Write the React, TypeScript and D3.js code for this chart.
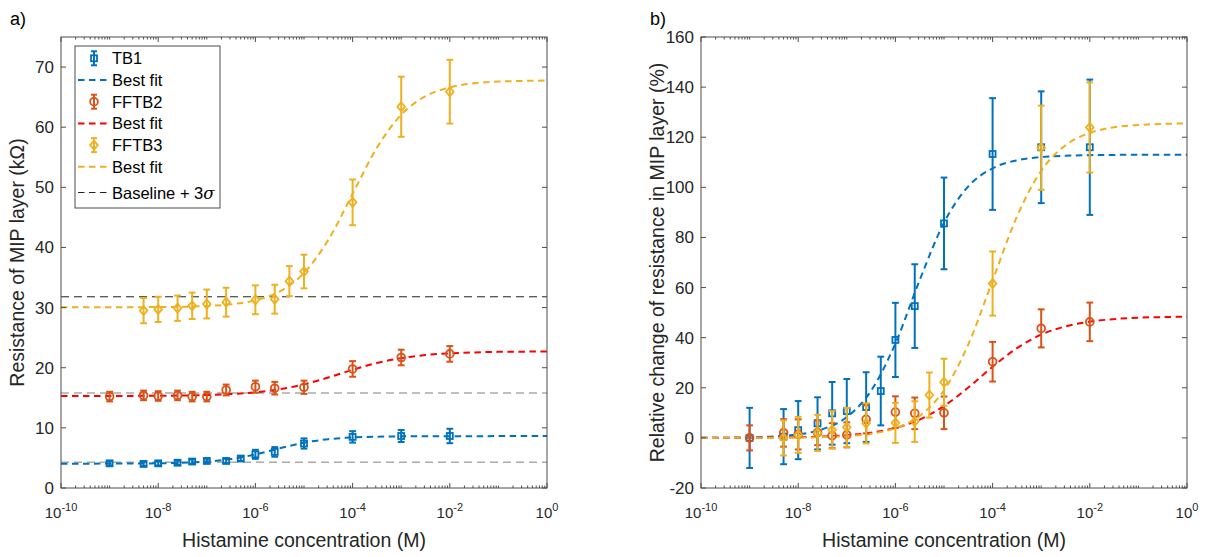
import React from "react";
import { scaleLog, scaleLinear, line, curveMonotoneX } from "d3";

const W = 1208;
const H = 557;
const FONT = "'Liberation Sans', Arial, Helvetica, sans-serif";

// histamine concentrations (M) per sensor
const concTB1 = [1e-9, 5e-9, 1e-8, 2.5e-8, 5e-8, 1e-7, 2.5e-7, 5e-7, 1e-6, 2.5e-6, 1e-5, 1e-4, 1e-3, 1e-2];
const concFFTB2 = [1e-9, 5e-9, 1e-8, 2.5e-8, 5e-8, 1e-7, 2.5e-7, 1e-6, 2.5e-6, 1e-5, 1e-4, 1e-3, 1e-2];
const concFFTB3 = [5e-9, 1e-8, 2.5e-8, 5e-8, 1e-7, 2.5e-7, 1e-6, 2.5e-6, 5e-6, 1e-5, 1e-4, 1e-3, 1e-2];

// a) resistance (kOhm)
const tb1Res = [4.1, 4.0, 4.1, 4.2, 4.4, 4.5, 4.5, 4.9, 5.6, 6.0, 7.4, 8.5, 8.65, 8.65];
const tb1ResErr = [0.35, 0.35, 0.35, 0.35, 0.35, 0.35, 0.35, 0.4, 0.75, 0.8, 0.85, 0.95, 1.0, 1.2];
const fftb2Res = [15.2, 15.4, 15.3, 15.4, 15.2, 15.2, 16.3, 16.85, 16.6, 16.75, 19.8, 21.7, 22.3];
const fftb2ResErr = [0.8, 0.8, 0.8, 0.8, 0.8, 0.8, 0.9, 1.0, 1.05, 1.1, 1.3, 1.3, 1.3];
const fftb3Res = [29.5, 29.7, 29.9, 30.3, 30.6, 30.9, 31.3, 31.4, 34.4, 36.0, 47.5, 63.4, 65.9];
const fftb3ResErr = [2.1, 2.1, 2.1, 2.2, 2.4, 2.4, 2.4, 2.4, 2.5, 2.8, 3.8, 5.0, 5.3];
const baselines = [4.3, 15.8, 31.8];

// b) relative change (%)
const tb1Pct = [0, 0.5, 3.1, 5.8, 9.8, 10.7, 12.3, 18.7, 39.1, 52.6, 85.6, 113.3, 116, 116];
const tb1PctErr = [12, 11, 11.6, 10.4, 12.5, 12.8, 13.9, 13.7, 14.8, 16.7, 18.3, 22.3, 22.3, 27];
const fftb2Pct = [0, 2, 1.4, 2.1, 0.9, 1.2, 7.4, 10.3, 9.8, 10, 30.4, 43.7, 46.3];
const fftb2PctErr = [5, 5.5, 6, 5, 5, 5, 5.6, 6.3, 6.3, 6.5, 7.9, 7.6, 7.7];
const fftb3Pct = [0, 1.2, 2, 3.2, 4.2, 5.8, 6, 6.5, 17.1, 22.2, 61.6, 115.8, 123.9];
const fftb3PctErr = [7, 7.2, 7.2, 7.5, 7.8, 8, 8, 8.1, 9, 9.4, 12.8, 16.8, 18];

// best fit curves, read at half-decade steps
const fitExp = [-10, -9.5, -9, -8.5, -8, -7.5, -7, -6.5, -6, -5.5, -5, -4.5, -4, -3.5, -3, -2.5, -2, -1.5, -1, -0.5, 0];
const tb1FitRes = [4.05, 4.05, 4.06, 4.07, 4.11, 4.19, 4.39, 4.81, 5.58, 6.6, 7.53, 8.12, 8.41, 8.54, 8.59, 8.61, 8.62, 8.62, 8.63, 8.63, 8.63];
const fftb2FitRes = [15.3, 15.31, 15.31, 15.32, 15.34, 15.38, 15.46, 15.62, 15.91, 16.42, 17.24, 18.38, 19.65, 20.78, 21.6, 22.11, 22.4, 22.55, 22.64, 22.67, 22.71];
const fftb3FitRes = [30.05, 30.05, 30.06, 30.07, 30.09, 30.14, 30.26, 30.55, 31.21, 32.69, 35.76, 41.26, 48.92, 56.58, 62.08, 65.15, 66.62, 67.31, 67.58, 67.7, 67.76];
const tb1FitPct = [0.04, 0.09, 0.23, 0.56, 1.4, 3.46, 8.31, 18.8, 37.7, 63.0, 85.9, 100.4, 107.6, 110.8, 112.1, 112.6, 112.85, 112.95, 113, 113, 113];
const fftb2FitPct = [0.02, 0.03, 0.07, 0.14, 0.27, 0.54, 1.06, 2.07, 3.97, 7.32, 12.7, 20.1, 28.4, 35.8, 41.2, 44.5, 46.4, 47.4, 48.0, 48.2, 48.4];
const fftb3FitPct = [0, 0.01, 0.02, 0.05, 0.13, 0.3, 0.7, 1.65, 3.85, 8.77, 19.0, 37.3, 62.8, 88.3, 106.6, 116.8, 121.7, 124.0, 124.9, 125.3, 125.5];

const xTickExp = [-10, -8, -6, -4, -2, 0];
const resTicks = [0, 10, 20, 30, 40, 50, 60, 70];
const pctTicks = [-20, 0, 20, 40, 60, 80, 100, 120, 140, 160];

const BLUE = "#0072BD";
const ORANGE = "#D95319";
const YELLOW = "#EDB120";
const RED = "#FF0000";

const TOP = 37;
const BOTTOM = 488;

type Shape = "s" | "o" | "d";

const Marker = ({ x, y, shape, color }: { x: number; y: number; shape: Shape; color: string }) => {
  if (shape === "s") return <rect x={x - 3} y={y - 3} width={6} height={6} fill="none" stroke={color} strokeWidth={1.8} />;
  if (shape === "o") return <circle cx={x} cy={y} r={3.9} fill="none" stroke={color} strokeWidth={1.8} />;
  return <path d={`M${x},${y - 4.5}L${x + 3.8},${y}L${x},${y + 4.5}L${x - 3.8},${y}Z`} fill="none" stroke={color} strokeWidth={1.8} />;
};

const ErrorSeries = ({ conc, vals, errs, xs, ys, shape, color }: any) => (
  <g>
    {conc.map((c: number, i: number) => {
      const x = xs(c);
      const y1 = ys(vals[i] - errs[i]);
      const y2 = ys(vals[i] + errs[i]);
      return (
        <g key={i} stroke={color} strokeWidth={2}>
          <line x1={x} x2={x} y1={y1} y2={y2} />
          <line x1={x - 3.4} x2={x + 3.4} y1={y1} y2={y1} />
          <line x1={x - 3.4} x2={x + 3.4} y1={y2} y2={y2} />
          <Marker x={x} y={ys(vals[i])} shape={shape} color={color} />
        </g>
      );
    })}
  </g>
);

const Panel = ({ left, yDomain, yTicks, yTitle, label, fits, series, showBaselines, showLegend }: any) => {
  const right = left + 486;
  const xs = scaleLog().domain([1e-10, 1]).range([left, right]);
  const ys = scaleLinear().domain(yDomain).range([BOTTOM, TOP]);
  const fitLine = (vals: number[]) =>
    line<number>()
      .x((e) => xs(Math.pow(10, e)))
      .y((_, i) => ys(vals[i]))
      .curve(curveMonotoneX)(fitExp) || "";

  const minor: number[] = [];
  for (let d = -10; d < 0; d++) {
    if (d % 2 !== 0) minor.push(Math.pow(10, d));
    for (let k = 2; k <= 9; k++) minor.push(k * Math.pow(10, d));
  }
  const axisColor = "#4d4d4d";
  const clipId = `clip${left}`;

  return (
    <g fontFamily={FONT}>
      <defs>
        <clipPath id={clipId}>
          <rect x={left} y={TOP} width={right - left} height={BOTTOM - TOP} />
        </clipPath>
      </defs>
      <g clipPath={`url(#${clipId})`}>
        {showBaselines &&
          baselines.map((b: number, i: number) => (
            <line key={i} x1={left} x2={right} y1={ys(b)} y2={ys(b)} stroke={i === 2 ? "#222" : "#808080"} strokeWidth={1} strokeDasharray="8 5" />
          ))}
        {fits.map((f: any, i: number) => (
          <path key={i} d={fitLine(f.vals)} fill="none" stroke={f.color} strokeWidth={2} strokeDasharray="6.5 4.5" />
        ))}
        {series.map((s: any, i: number) => (
          <ErrorSeries key={i} {...s} xs={xs} ys={ys} />
        ))}
      </g>
      {/* axes box */}
      <rect x={left} y={TOP} width={right - left} height={BOTTOM - TOP} fill="none" stroke={axisColor} strokeWidth={1} />
      {minor.map((v, i) => (
        <g key={i} stroke={axisColor} strokeWidth={1}>
          <line x1={xs(v)} x2={xs(v)} y1={BOTTOM} y2={BOTTOM - 2.5} />
          <line x1={xs(v)} x2={xs(v)} y1={TOP} y2={TOP + 2.5} />
        </g>
      ))}
      {xTickExp.map((e) => {
        const x = xs(Math.pow(10, e));
        return (
          <g key={e}>
            <line x1={x} x2={x} y1={BOTTOM} y2={BOTTOM - 5} stroke={axisColor} />
            <line x1={x} x2={x} y1={TOP} y2={TOP + 5} stroke={axisColor} />
            <text x={x} y={518} textAnchor="middle" fontSize={15} fill="#262626">
              10<tspan dy={-7.5} fontSize={11}>{e}</tspan>
            </text>
          </g>
        );
      })}
      {yTicks.map((t: number) => (
        <g key={t}>
          <line x1={left} x2={left + 5} y1={ys(t)} y2={ys(t)} stroke={axisColor} />
          <line x1={right} x2={right - 5} y1={ys(t)} y2={ys(t)} stroke={axisColor} />
          <text x={left - 7} y={ys(t) + 6} textAnchor="end" fontSize={17} fill="#262626">
            {t}
          </text>
        </g>
      ))}
      <text x={(left + right) / 2} y={547} textAnchor="middle" fontSize={19.5} fill="#262626">
        Histamine concentration (M)
      </text>
      <text transform={`translate(${left - 37},${(TOP + BOTTOM) / 2}) rotate(-90)`} textAnchor="middle" fontSize={19.5} fill="#262626">
        {yTitle}
      </text>
      <text x={left - 51} y={25} fontSize={18} fill="#000">
        {label}
      </text>
      {showLegend && <Legend />}
    </g>
  );
};

const legendItems = [
  { name: "TB1", kind: "marker", shape: "s", color: BLUE },
  { name: "Best fit", kind: "line", color: BLUE },
  { name: "FFTB2", kind: "marker", shape: "o", color: ORANGE },
  { name: "Best fit", kind: "line", color: RED },
  { name: "FFTB3", kind: "marker", shape: "d", color: YELLOW },
  { name: "Best fit", kind: "line", color: YELLOW },
  { name: "Baseline + 3", kind: "base", color: "#222" },
];

const Legend = () => {
  const x0 = 75;
  const y0 = 46;
  return (
    <g>
      <rect x={x0} y={y0} width={145} height={162} fill="#fff" stroke="#4d4d4d" strokeWidth={1} />
      {legendItems.map((it, i) => {
        const cy = 58.3 + i * 21.7 + (i === 6 ? 4 : 0);
        return (
          <g key={i}>
            {it.kind === "marker" && (
              <g stroke={it.color} strokeWidth={2}>
                <line x1={94} x2={94} y1={cy - 7} y2={cy + 7} />
                <line x1={91} x2={97} y1={cy - 7} y2={cy - 7} />
                <line x1={91} x2={97} y1={cy + 7} y2={cy + 7} />
                <Marker x={94} y={cy} shape={it.shape as Shape} color={it.color} />
              </g>
            )}
            {it.kind === "line" && <line x1={78} x2={109} y1={cy} y2={cy} stroke={it.color} strokeWidth={2} strokeDasharray="6.5 4.5" />}
            {it.kind === "base" && <line x1={78} x2={109} y1={cy} y2={cy} stroke={it.color} strokeWidth={1} strokeDasharray="6.5 4.5" />}
            <text x={112} y={cy + 6} fontSize={16.5} fill="#000">
              {it.name}
              {it.kind === "base" && <tspan fontStyle="italic" fontFamily="'DejaVu Serif', 'Liberation Serif', serif">σ</tspan>}
            </text>
          </g>
        );
      })}
    </g>
  );
};

const App = () => (
  <svg width={W} height={H} style={{ position: "absolute", left: 0, top: 0, background: "#fff" }}>
    <Panel
      left={61}
      yDomain={[0, 75]}
      yTicks={resTicks}
      yTitle="Resistance of MIP layer (kΩ)"
      label="a)"
      showBaselines
      showLegend
      fits={[
        { vals: tb1FitRes, color: BLUE },
        { vals: fftb2FitRes, color: RED },
        { vals: fftb3FitRes, color: YELLOW },
      ]}
      series={[
        { conc: concTB1, vals: tb1Res, errs: tb1ResErr, shape: "s", color: BLUE },
        { conc: concFFTB2, vals: fftb2Res, errs: fftb2ResErr, shape: "o", color: ORANGE },
        { conc: concFFTB3, vals: fftb3Res, errs: fftb3ResErr, shape: "d", color: YELLOW },
      ]}
    />
    <Panel
      left={701}
      yDomain={[-20, 160]}
      yTicks={pctTicks}
      yTitle="Relative change of resistance in MIP layer (%)"
      label="b)"
      fits={[
        { vals: tb1FitPct, color: BLUE },
        { vals: fftb2FitPct, color: RED },
        { vals: fftb3FitPct, color: YELLOW },
      ]}
      series={[
        { conc: concTB1, vals: tb1Pct, errs: tb1PctErr, shape: "s", color: BLUE },
        { conc: concFFTB2, vals: fftb2Pct, errs: fftb2PctErr, shape: "o", color: ORANGE },
        { conc: concFFTB3, vals: fftb3Pct, errs: fftb3PctErr, shape: "d", color: YELLOW },
      ]}
    />
  </svg>
);

export default App;
